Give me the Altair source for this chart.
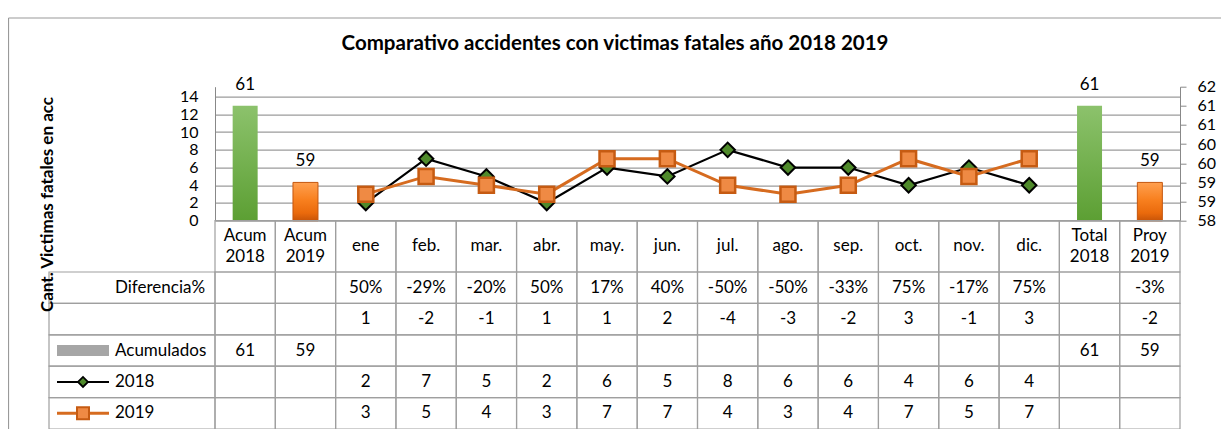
import altair as alt
import pandas as pd

# ---------------- data ----------------
categories = ["Acum 2018", "Acum 2019", "ene", "feb.", "mar.", "abr.", "may.", "jun.",
              "jul.", "ago.", "sep.", "oct.", "nov.", "dic.", "Total 2018", "Proy 2019"]
months = ["ene", "feb.", "mar.", "abr.", "may.", "jun.", "jul.", "ago.", "sep.", "oct.", "nov.", "dic."]
victimas_2018 = [2, 7, 5, 2, 6, 5, 8, 6, 6, 4, 6, 4]
victimas_2019 = [3, 5, 4, 3, 7, 7, 4, 3, 4, 7, 5, 7]
acum_cats = ["Acum 2018", "Acum 2019", "Total 2018", "Proy 2019"]
acum_vals = [61, 59, 61, 59]
acum_series = ["2018", "2019", "2018", "2019"]
dif_cats = months + ["Proy 2019"]
dif_pct = ["50%", "-29%", "-20%", "50%", "17%", "40%", "-50%", "-50%", "-33%", "75%", "-17%", "75%", "-3%"]
dif_abs = [1, -2, -1, 1, 1, 2, -4, -3, -2, 3, -1, 3, -2]
row_keys = ["pct", "abs", "acum", "s2018", "s2019"]
row_labels = ["Diferencia%", "", "Acumulados", "2018", "2019"]
right_ticks = [58, 58.5, 59, 59.5, 60, 60.5, 61, 61.5]
left_ticks = [0, 2, 4, 6, 8, 10, 12, 14]
chart_title = "Comparativo accidentes con victimas fatales año 2018 2019"
y_title = "Cant. Victimas fatales en acc"

FONT = "Lato"
W, H = 965, 134
GRID = "#9b9b9b"
BORDER = "#9f9f9f"

bars_df = pd.DataFrame({"cat": acum_cats, "val": acum_vals, "serie": acum_series})
lines_df = pd.concat([
    pd.DataFrame({"cat": months, "val": victimas_2018, "serie": "2018"}),
    pd.DataFrame({"cat": months, "val": victimas_2019, "serie": "2019"}),
])
table_rows = []
for c, t in zip(dif_cats, dif_pct):
    table_rows.append({"cat": c, "row": "pct", "text": t})
for c, t in zip(dif_cats, dif_abs):
    table_rows.append({"cat": c, "row": "abs", "text": str(t)})
for c, t in zip(acum_cats, acum_vals):
    table_rows.append({"cat": c, "row": "acum", "text": str(t)})
for c, t in zip(months, victimas_2018):
    table_rows.append({"cat": c, "row": "s2018", "text": str(t)})
for c, t in zip(months, victimas_2019):
    table_rows.append({"cat": c, "row": "s2019", "text": str(t)})
table_df = pd.DataFrame(table_rows)
cells_df = pd.DataFrame([{"cat": c, "row": r} for c in categories for r in row_keys])
header_df = pd.DataFrame({"cat": categories})
labels_df = pd.DataFrame({"row": row_keys, "label": row_labels})

xs = alt.Scale(domain=categories, paddingInner=0, paddingOuter=0)
X = alt.X("cat:N", scale=xs, axis=None, sort=categories)
rows_scale = alt.Scale(domain=row_keys, range=[185.3, 342.3], paddingInner=0, paddingOuter=0)
Yrow = alt.Y("row:N", scale=rows_scale, axis=None, sort=row_keys)

# ---------------- bars (right axis) ----------------
green_grad = alt.Gradient(gradient="linear",
                          stops=[alt.GradientStop(color="#8cc26c", offset=0),
                                 alt.GradientStop(color="#5c9f33", offset=1)],
                          x1=0, x2=0, y1=0, y2=1)
orange_grad = alt.Gradient(gradient="linear",
                           stops=[alt.GradientStop(color="#ffa050", offset=0),
                                  alt.GradientStop(color="#f8801f", offset=0.45),
                                  alt.GradientStop(color="#ea6a0c", offset=0.8),
                                  alt.GradientStop(color="#c85408", offset=1)],
                           x1=0, x2=0, y1=0, y2=1)
right_scale = alt.Scale(domain=[58, 61.5], zero=False, nice=False)
right_axis = alt.Axis(orient="right", values=right_ticks, format=".0f", grid=False,
                      tickSize=6, tickColor="#888888", domainColor="#888888",
                      labelPadding=11, labelFontSize=16, labelFont=FONT, labelColor="black",
                      title=None)
Yright = alt.Y("val:Q", scale=right_scale, axis=right_axis)
bar_base = alt.Chart(bars_df)
green_bars = bar_base.transform_filter(alt.datum.serie == "2018").mark_bar(
    size=25, color=green_grad).encode(x=X, y=Yright, y2=alt.datum(58))
orange_bars = bar_base.transform_filter(alt.datum.serie == "2019").mark_bar(
    size=25, color=orange_grad, stroke="#c4560e", strokeWidth=1).encode(
    x=X, y=Yright, y2=alt.datum(58))
bar_labels = bar_base.mark_text(dy=-16, baseline="alphabetic", fontSize=17, font=FONT,
                                color="black").encode(x=X, y=Yright, text="val:Q")
bars_layer = alt.layer(green_bars, orange_bars, bar_labels)

# ---------------- lines (left axis) ----------------
left_scale = alt.Scale(domain=[0, 15.13], nice=False, zero=True)
left_axis = alt.Axis(orient="left", values=left_ticks, grid=True, gridColor=GRID, gridWidth=1.3,
                     ticks=False, domainColor="#888888", labelPadding=17, labelFontSize=16,
                     labelFont=FONT, labelColor="black", title=None)
Yleft = alt.Y("val:Q", scale=left_scale, axis=left_axis)
lbase = alt.Chart(lines_df)
l18 = lbase.transform_filter(alt.datum.serie == "2018")
l19 = lbase.transform_filter(alt.datum.serie == "2019")
line18 = l18.mark_line(color="black", strokeWidth=2.2).encode(x=X, y=Yleft)
pt18 = l18.mark_point(shape="diamond", size=210, filled=True, fill="#4f8a2b", stroke="black",
                      strokeWidth=2, opacity=1).encode(x=X, y=Yleft)
line19 = l19.mark_line(color="#d66b1f", strokeWidth=3).encode(x=X, y=Yleft)
pt19 = l19.mark_point(shape="square", size=225, filled=True, fill="#ef8a44", stroke="#c65b12",
                      strokeWidth=2.5, opacity=1).encode(x=X, y=Yleft)
lines_layer = alt.layer(line18, pt18, line19, pt19)

# ---------------- data table ----------------
cells = alt.Chart(cells_df).mark_rect(fillOpacity=0, stroke=BORDER, strokeWidth=1.2).encode(
    x=X, y=Yrow)
label_cells = alt.Chart(labels_df).mark_rect(fillOpacity=0, stroke=BORDER, strokeWidth=1.2).encode(
    x=alt.value(-166), x2=alt.value(0), y=Yrow)
header_cells = alt.Chart(header_df).mark_rect(fillOpacity=0, stroke=BORDER, strokeWidth=1.2).encode(
    x=X, y=alt.value(134), y2=alt.value(185.3))
header_two = alt.Chart(header_df).transform_filter("indexof(datum.cat, ' ') >= 0").mark_text(
    lineBreak=" ", lineHeight=21, fontSize=17, font=FONT, color="black", baseline="middle").encode(
    x=X, y=alt.value(149), text="cat:N")
header_one = alt.Chart(header_df).transform_filter("indexof(datum.cat, ' ') < 0").mark_text(
    fontSize=17, font=FONT, color="black", baseline="middle").encode(
    x=X, y=alt.value(159.5), text="cat:N")
values_text = alt.Chart(table_df).mark_text(fontSize=17, font=FONT, color="black",
                                            baseline="middle").encode(
    x=X, y=Yrow, text="text:N")
row_text = alt.Chart(labels_df).mark_text(fontSize=17, font=FONT, color="black", align="left",
                                          baseline="middle").encode(
    x=alt.value(-100), y=Yrow, text="label:N")
key_acum = alt.Chart(labels_df).transform_filter(alt.datum.row == "acum").mark_point(
    shape="M-1,-0.21L1,-0.21L1,0.21L-1,0.21Z", size=2704, filled=True, fill="#a6a6a6",
    strokeWidth=0, opacity=1).encode(x=alt.value(-132), y=Yrow)
key18_line = alt.Chart(labels_df).transform_filter(alt.datum.row == "s2018").mark_point(
    shape="M-1,0L1,0", size=2704, filled=False, stroke="black", strokeWidth=2, opacity=1).encode(
    x=alt.value(-132), y=Yrow)
key18_pt = alt.Chart(labels_df).transform_filter(alt.datum.row == "s2018").mark_point(
    shape="diamond", size=100, filled=True, fill="#4f8a2b", stroke="black", strokeWidth=1.8,
    opacity=1).encode(x=alt.value(-132), y=Yrow)
key19_line = alt.Chart(labels_df).transform_filter(alt.datum.row == "s2019").mark_point(
    shape="M-1,0L1,0", size=2704, filled=False, stroke="#d66b1f", strokeWidth=3, opacity=1).encode(
    x=alt.value(-132), y=Yrow)
key19_pt = alt.Chart(labels_df).transform_filter(alt.datum.row == "s2019").mark_point(
    shape="square", size=144, filled=True, fill="#ef8a44", stroke="#c65b12", strokeWidth=2,
    opacity=1).encode(x=alt.value(-132), y=Yrow)
table_layer = alt.layer(cells, label_cells, header_cells, header_two, header_one, values_text,
                        row_text, key_acum, key18_line, key18_pt, key19_line, key19_pt)

# ---------------- frame and titles ----------------
one = pd.DataFrame({"t": [chart_title], "y": [y_title]})
frame_top = alt.Chart(one).mark_rule(color="#9a9a9a", strokeWidth=1.2).encode(
    x=alt.value(-206.5), x2=alt.value(1010), y=alt.value(-68.7))
frame_left = alt.Chart(one).mark_rule(color="#9a9a9a", strokeWidth=1.2).encode(
    x=alt.value(-206.5), y=alt.value(-68.7), y2=alt.value(400))
title_txt = alt.Chart(one).mark_text(fontSize=20.5, fontWeight="bold", font=FONT, color="black",
                                     baseline="alphabetic").encode(
    x=alt.value(400), y=alt.value(-37), text="t:N")
ytitle_txt = alt.Chart(one).mark_text(fontSize=17, fontWeight="bold", font=FONT, color="black",
                                      angle=270, baseline="middle").encode(
    x=alt.value(-167), y=alt.value(117.8), text="y:N")
deco_layer = alt.layer(frame_top, frame_left, title_txt, ytitle_txt)

chart = alt.layer(lines_layer, bars_layer, table_layer, deco_layer).resolve_scale(
    y="independent"
).properties(
    width=W, height=H,
    autosize=alt.AutoSizeParams(type="none"),
    padding={"left": 207, "top": 78.7, "right": 41, "bottom": 208.3},
    background="white",
).configure(font=FONT).configure_view(strokeWidth=0)

chart.save("out.html", embed_options={"renderer": "svg", "actions": False})
